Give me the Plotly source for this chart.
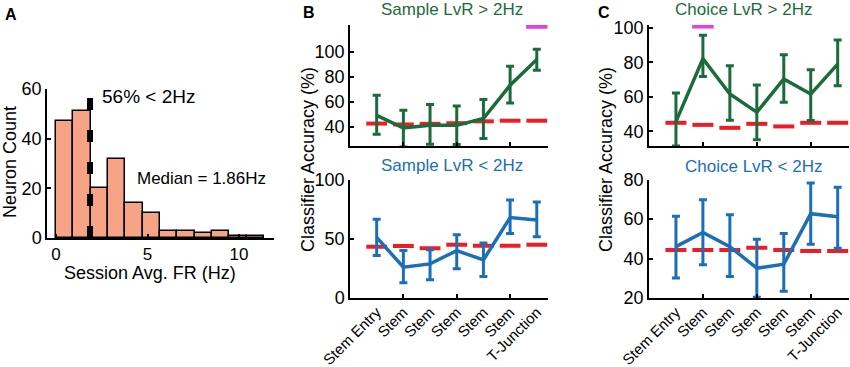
import plotly.graph_objects as go

# ---------------- data ----------------
hist_counts = [47, 51, 20, 32, 14, 10, 3, 3, 2, 3, 1, 1]
hist_bin_start = 0.0
hist_bin_width = 0.947
median_fr = 1.86
pct_below_label = "56% < 2Hz"

positions = [0, 1, 2, 3, 4, 5, 6]
position_labels = ["Stem Entry", "Stem", "Stem", "Stem", "Stem", "Stem", "T-Junction"]
minor_tick_positions = [1, 3, 5]

sample_hi_mean = [49.3, 39.2, 41.3, 41.3, 46.7, 73.3, 93.9]
sample_hi_upper = [65.3, 53.3, 57.9, 56.8, 61.9, 88.5, 102.0]
sample_hi_lower = [34.1, 24.0, 26.1, 25.9, 30.7, 59.2, 85.3]
sample_hi_chance = [42.7, 42.0, 42.5, 43.0, 44.5, 45.0, 45.0]

sample_lo_mean = [51.1, 26.0, 28.8, 40.0, 32.1, 67.9, 65.9]
sample_lo_upper = [66.5, 40.0, 40.8, 53.4, 46.4, 82.7, 81.0]
sample_lo_lower = [35.8, 12.8, 15.4, 24.6, 18.2, 54.5, 51.7]
sample_lo_chance = [43.3, 43.9, 41.9, 45.0, 44.1, 44.0, 45.0]

choice_hi_mean = [45.7, 82.1, 61.6, 51.1, 70.3, 61.6, 78.9]
choice_hi_upper = [62.2, 95.6, 77.9, 66.8, 84.3, 75.6, 92.9]
choice_hi_lower = [31.6, 71.8, 46.5, 35.2, 56.9, 46.3, 66.4]
choice_hi_chance = [45.0, 43.8, 42.1, 44.4, 42.9, 45.0, 45.0]

choice_lo_mean = [46.0, 53.2, 46.0, 35.1, 37.1, 62.7, 61.1]
choice_lo_upper = [61.4, 69.8, 62.2, 49.7, 52.7, 78.2, 76.1]
choice_lo_lower = [30.1, 36.8, 30.9, 20.4, 23.4, 47.2, 45.2]
choice_lo_chance = [44.3, 44.3, 44.3, 45.5, 44.3, 43.8, 43.8]

sample_sig_bins = [6]
sample_sig_level = 120
choice_sig_bins = [1]
choice_sig_level = 100.6

# ---------------- style ----------------
W, H = 850, 367
FONT = "Liberation Sans, Arial, sans-serif"
GREEN = "#1C6B3B"
BLUE = "#1A6FB7"
RED = "#EE1C25"
MAGENTA = "#E640E0"
SALMON = "#F7A486"
HALF = 0.39


def fx(p):
    return p / W


def fy(p):
    return 1 - p / H


fig = go.Figure()

# ---- Panel A histogram ----
centers = [hist_bin_start + hist_bin_width * (i + 0.5) for i in range(len(hist_counts))]
fig.add_trace(go.Bar(x=centers, y=hist_counts, width=hist_bin_width,
                     marker=dict(color=SALMON, line=dict(color="black", width=1.5)),
                     xaxis="x", yaxis="y", showlegend=False))
fig.add_trace(go.Scatter(x=[median_fr, median_fr], y=[56.4, 0], mode="lines",
                         line=dict(color="black", width=6, dash="12px,20px"),
                         xaxis="x", yaxis="y", showlegend=False))


def add_panel(xa, ya, mean, upper, lower, chance, color, sig_bins=None, sig_level=None):
    # chance level segments
    cx, cy = [], []
    for p, c in zip(positions, chance):
        cx += [p - HALF, p + HALF, None]
        cy += [c, c, None]
    fig.add_trace(go.Scatter(x=cx, y=cy, mode="lines",
                             line=dict(color=RED, width=4),
                             xaxis=xa, yaxis=ya, showlegend=False))
    fig.add_trace(go.Scatter(
        x=positions, y=mean, mode="lines",
        line=dict(color=color, width=3.5),
        error_y=dict(type="data", symmetric=False,
                     array=[u - m for u, m in zip(upper, mean)],
                     arrayminus=[m - l for m, l in zip(mean, lower)],
                     color=color, thickness=3, width=4),
        xaxis=xa, yaxis=ya, showlegend=False))
    if sig_bins:
        sx, sy = [], []
        for b in sig_bins:
            sx += [b - 0.4, b + 0.4, None]
            sy += [sig_level, sig_level, None]
        fig.add_trace(go.Scatter(x=sx, y=sy, mode="lines",
                                 line=dict(color=MAGENTA, width=4),
                                 xaxis=xa, yaxis=ya, showlegend=False))


add_panel("x2", "y2", sample_hi_mean, sample_hi_upper, sample_hi_lower, sample_hi_chance, GREEN,
          sample_sig_bins, sample_sig_level)
add_panel("x3", "y3", sample_lo_mean, sample_lo_upper, sample_lo_lower, sample_lo_chance, BLUE)
add_panel("x4", "y4", choice_hi_mean, choice_hi_upper, choice_hi_lower, choice_hi_chance, GREEN,
          choice_sig_bins, choice_sig_level)
add_panel("x5", "y5", choice_lo_mean, choice_lo_upper, choice_lo_lower, choice_lo_chance, BLUE)

base = dict(showline=True, linecolor="black", linewidth=1.5, ticks="inside", ticklen=4,
            tickwidth=1.5, tickcolor="black", showgrid=False, zeroline=False, mirror=False,
            automargin=False,
            tickfont=dict(size=18, color="black", family=FONT))


def xcat(domain, anchor, labels):
    d = dict(base)
    d.update(domain=domain, anchor=anchor, range=[-1, 6.42], tickmode="array",
             tickvals=positions, ticktext=position_labels, ticks="",
             showticklabels=labels, tickangle=-45, ticklabelstandoff=-2,
             tickfont=dict(size=15, color="black", family=FONT),
             minor=dict(tickmode="array", tickvals=minor_tick_positions, ticks="inside",
                        ticklen=4, tickwidth=1.5, tickcolor="black"))
    return d


def yax(domain, anchor, rng, vals):
    d = dict(base)
    d.update(domain=domain, anchor=anchor, range=rng, tickmode="array", tickvals=vals)
    return d


xA = dict(base)
xA.update(domain=[fx(47), fx(274)], anchor="y", range=[-0.49, 11.91], tickmode="array",
          tickvals=[0, 5, 10], tickfont=dict(size=17, color="black", family=FONT))
yA = yax([fy(238), fy(89)], "x", [0, 60], [0, 20, 40, 60])

BX = [fx(350), fx(548)]
CX = [fx(649), fx(849)]
TOPY = [fy(146), fy(25)]
BOTY = [fy(298), fy(179.5)]

fig.update_layout(
    width=W, height=H, margin=dict(l=0, r=0, t=0, b=0, autoexpand=False),
    paper_bgcolor="white", plot_bgcolor="white",
    font=dict(family=FONT, color="black"),
    bargap=0,
    xaxis=xA, yaxis=yA,
    xaxis2=xcat(BX, "y2", False), yaxis2=yax(TOPY, "x2", [24.8, 121.4], [40, 60, 80, 100]),
    xaxis3=xcat(BX, "y3", True), yaxis3=yax(BOTY, "x3", [0, 100], [0, 50, 100]),
    xaxis4=xcat(CX, "y4", False), yaxis4=yax(TOPY, "x4", [31.6, 101.5], [40, 60, 80, 100]),
    xaxis5=xcat(CX, "y5", True), yaxis5=yax(BOTY, "x5", [20, 80], [20, 40, 60, 80]),
)


def ann(text, x, y, size, color="black", bold=False, xanchor="center", angle=0,
        xref="paper", yref="paper"):
    if xref == "paper":
        x = fx(x)
    if yref == "paper":
        y = fy(y)
    fig.add_annotation(text=f"<b>{text}</b>" if bold else text, x=x, y=y, xref=xref, yref=yref,
                       showarrow=False, xanchor=xanchor, yanchor="middle", textangle=angle,
                       font=dict(size=size, color=color, family=FONT))


ann("A", 3, 14, 16, bold=True, xanchor="left")
ann("B", 301, 13, 16, bold=True, xanchor="left")
ann("C", 596, 13, 16, bold=True, xanchor="left")

ann(pct_below_label, 2.4, 56.8, 19, xanchor="left", xref="x", yref="y")
ann(f"Median = {median_fr}Hz", 4.32, 23.8, 17, xanchor="left", xref="x", yref="y")
ann("Neuron Count", 10, 162, 18, angle=-90)
ann("Session Avg. FR (Hz)", 150, 273, 18)

ann("Classifier Accuracy (%)", 308, 160, 18, angle=-90)
ann("Classifier Accuracy (%)", 606, 160, 18, angle=-90)

ann("Sample LvR > 2Hz", 452, 10, 17, color=GREEN)
ann("Sample LvR < 2Hz", 452, 165, 17, color=BLUE)
ann("Choice LvR > 2Hz", 743, 9, 17, color=GREEN)
ann("Choice LvR < 2Hz", 753, 166, 17, color=BLUE)

fig.write_html("out.html", config={"displayModeBar": False},
               post_script="document.body.style.margin='0';document.body.style.overflow='hidden';")
